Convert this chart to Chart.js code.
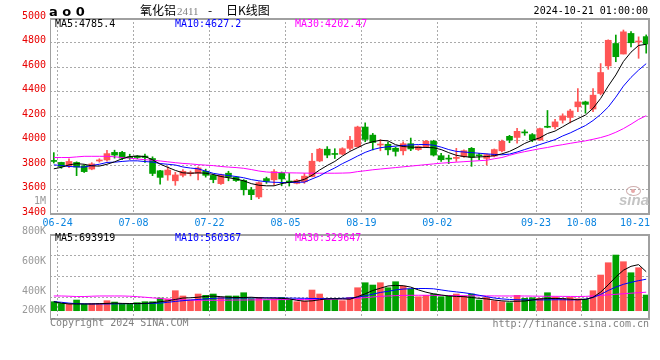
<!DOCTYPE html>
<html>
<head>
<meta charset="utf-8">
<script src="https://cdn.jsdelivr.net/npm/chart.js@4.4.1/dist/chart.umd.min.js"></script>
<style>
  html, body { margin: 0; padding: 0; background: #fff; }
  #wrap { position: relative; width: 660px; height: 360px; overflow: hidden;
          font-family: "DejaVu Sans Mono", monospace; font-size: 10px; }
  canvas { position: absolute; left: 0; }
  #cPrice { top: 0; }
  #cVol { top: 232px; }
  .txt { position: absolute; white-space: nowrap; line-height: 12px; }
  .cjk { font-family: "Noto Sans CJK SC", sans-serif; font-size: 12px; color: #000; }
  .vlab { color: #999; text-align: right; right: 614px; }
</style>
</head>
<body>
<div id="wrap">
  <canvas id="cPrice" width="660" height="232"></canvas>
  <canvas id="cVol" width="660" height="128"></canvas>

  <!-- cabeçalho -->
  <div class="txt" style="left:49px;top:5px;font:bold 13px 'DejaVu Sans';line-height:14px">a o 0</div>
  <div class="txt cjk" style="left:140px;top:4px">氧化铝</div>
  <div class="txt" style="left:177px;top:5px;font:11px 'Liberation Serif';color:#808080">2411</div>
  <div class="txt cjk" style="left:208px;top:4px">-</div>
  <div class="txt cjk" style="left:226px;top:4px">日K线图</div>
  <div class="txt" style="right:12px;top:5px;color:#000">2024-10-21 01:00:00</div>

  <!-- legendas das médias -->
  <div class="txt" id="pl0" style="left:55px;top:18px;color:#000"></div>
  <div class="txt" id="pl1" style="left:175px;top:18px;color:#0000ff"></div>
  <div class="txt" id="pl2" style="left:295px;top:18px;color:#ff00ff"></div>
  <div class="txt" id="vl0" style="left:55px;top:232px;color:#000"></div>
  <div class="txt" id="vl1" style="left:175px;top:232px;color:#0000ff"></div>
  <div class="txt" id="vl2" style="left:295px;top:232px;color:#ff00ff"></div>

  <!-- rótulos do volume -->
  <div class="txt vlab" id="va0" style="top:195px"></div>
  <div class="txt vlab" id="va1" style="top:225px"></div>
  <div class="txt vlab" id="va2" style="top:255px"></div>
  <div class="txt vlab" id="va3" style="top:285px"></div>
  <div class="txt vlab" id="va4" style="top:304px"></div>

  <!-- marca d'água -->
  <div style="position:absolute;left:626px;top:186px;width:13px;height:8px;border:1.5px solid #d0b0b0;border-radius:50%"></div>
  <div style="position:absolute;left:631px;top:189px;width:4px;height:4px;background:#e8a8a8;border-radius:50%"></div>
  <div class="txt" style="left:619px;top:193px;font:italic bold 15px 'Liberation Sans';color:#c4c4c4;line-height:14px">sina</div>

  <!-- rodapé -->
  <div class="txt" style="left:50px;top:317px;color:#808080">Copyright 2024 SINA.COM</div>
  <div class="txt" style="right:11px;top:318px;color:#808080">http://finance.sina.com.cn</div>
</div>

<script>
// ========= Dados =========
const dates = [
  "06-24","06-25","06-26","06-27","06-28",
  "07-01","07-02","07-03","07-04","07-05",
  "07-08","07-09","07-10","07-11","07-12",
  "07-15","07-16","07-17","07-18","07-19",
  "07-22","07-23","07-24","07-25","07-26",
  "07-29","07-30","07-31","08-01","08-02",
  "08-05","08-06","08-07","08-08","08-09",
  "08-12","08-13","08-14","08-15","08-16",
  "08-19","08-20","08-21","08-22","08-23",
  "08-26","08-27","08-28","08-29","08-30",
  "09-02","09-03","09-04","09-05","09-06",
  "09-09","09-10","09-11","09-12","09-13",
  "09-18","09-19","09-20",
  "09-23","09-24","09-25","09-26","09-27",
  "09-30",
  "10-08","10-09","10-10","10-11",
  "10-14","10-15","10-16","10-17","10-18",
  "10-21"
];

const open = [
  3833,3821,3793,3821,3793,3767,3833,3841,3903,3903,
  3861,3873,3873,3853,3753,3719,3671,3716,3729,3733,
  3749,3715,3648,3733,3701,3674,3598,3539,3689,3679,
  3737,3666,3650,3663,3706,3833,3929,3891,3889,3936,
  3949,4110,4044,3963,3969,3937,3916,3974,3926,3949,
  3994,3876,3853,3854,3869,3936,3879,3854,3873,3916,
  4034,4025,4067,4048,4004,4112,4112,4166,4188,4275,
  4315,4257,4384,4609,4792,4706,4874,4804,4848
];
const high = [
  3901,3823,3851,3826,3801,3819,3851,3919,3921,3911,
  3888,3877,3889,3867,3756,3786,3741,3763,3751,3786,
  3766,3723,3726,3749,3706,3681,3617,3662,3701,3763,
  3743,3731,3683,3731,3896,3936,3950,3933,3941,4034,
  4117,4144,4058,4007,3987,3946,3990,4020,3956,4002,
  4002,3896,3881,3936,3923,3943,3896,3891,3931,4004,
  4042,4100,4087,4057,4102,4245,4173,4218,4255,4424,
  4321,4424,4628,4822,4861,4902,4889,4846,4862
];
const low = [
  3816,3773,3779,3713,3739,3761,3823,3831,3856,3844,
  3846,3851,3821,3713,3644,3675,3634,3703,3711,3679,
  3701,3655,3642,3671,3666,3555,3517,3526,3650,3635,
  3630,3628,3645,3650,3703,3826,3859,3853,3883,3921,
  3946,3990,3923,3916,3883,3873,3882,3917,3919,3943,
  3873,3829,3811,3829,3861,3789,3843,3801,3866,3906,
  3982,3978,4042,3990,4000,4104,4094,4142,4144,4235,
  4223,4235,4372,4581,4643,4706,4764,4671,4713
];
const close = [
  3829,3787,3829,3783,3746,3809,3839,3893,3881,3856,
  3859,3861,3861,3731,3699,3759,3719,3749,3733,3776,
  3716,3681,3719,3701,3673,3598,3558,3656,3666,3746,
  3686,3661,3676,3709,3831,3929,3881,3886,3933,4002,
  4110,4009,3984,3969,3924,3911,3974,3931,3951,3994,
  3881,3843,3848,3858,3917,3863,3875,3885,3926,3994,
  4004,4075,4062,4004,4097,4108,4152,4201,4241,4315,
  4295,4370,4555,4818,4684,4887,4798,4809,4788
];

// médias móveis do preço
const ma5 = [
  3769,3781,3801,3811,3806,3793,3791,3806,3826,3851,
  3869,3873,3869,3843,3807,3781,3756,3736,3733,3736,
  3733,3723,3706,3696,3686,3671,3648,3635,3630,3630,
  3648,3659,3666,3683,3716,3759,3796,3829,3873,3911,
  3941,3972,3990,4002,3997,3966,3951,3946,3944,3943,
  3941,3926,3901,3879,3869,3863,3866,3869,3876,3891,
  3911,3941,3976,4002,4022,4057,4077,4112,4148,4178,
  4208,4263,4343,4444,4535,4645,4721,4776,4785.4
];
const ma10 = [
  3801,3796,3788,3785,3783,3796,3806,3821,3823,3829,
  3834,3834,3828,3824,3812,3806,3800,3784,3775,3769,
  3750,3732,3722,3714,3706,3696,3681,3671,3663,3659,
  3657,3657,3659,3660,3686,3711,3746,3776,3811,3841,
  3873,3903,3926,3941,3949,3954,3959,3964,3967,3967,
  3962,3946,3926,3911,3906,3901,3896,3891,3886,3883,
  3889,3906,3926,3946,3967,3987,4007,4037,4062,4092,
  4122,4163,4213,4273,4354,4444,4515,4575,4627.2
];
const ma30 = [
  3861,3861,3861,3866,3871,3871,3871,3871,3867,3861,
  3856,3849,3843,3839,3833,3826,3819,3813,3809,3803,
  3799,3795,3788,3783,3779,3773,3763,3751,3743,3739,
  3737,3736,3735,3734,3733,3733,3733,3733,3734,3736,
  3746,3753,3761,3767,3773,3779,3785,3791,3797,3803,
  3809,3815,3819,3823,3827,3831,3835,3839,3851,3861,
  3879,3896,3909,3921,3933,3943,3956,3966,3977,3987,
  3997,4010,4024,4042,4067,4097,4133,4172,4202.47
];

// volume (em milhares)
const volume = [
  160,130,119,190,119,130,130,178,154,119,
  119,143,160,160,225,208,356,262,190,297,
  273,297,237,262,262,320,214,237,190,208,
  237,190,160,172,368,297,208,208,178,237,
  409,498,457,498,409,516,438,385,249,273,
  297,249,262,297,262,297,190,237,178,160,
  143,273,220,231,220,320,243,220,237,214,
  208,356,635,854,991,872,676,765,279
];
const vma5 = [
  160,135,120,120,120,120,125,130,135,130,
  128,128,130,140,160,175,200,225,230,240,
  255,260,250,240,235,235,240,230,225,225,
  220,210,185,170,175,195,210,214,210,205,
  250,300,360,400,440,450,445,420,370,330,
  300,280,262,255,250,235,220,210,190,175,
  167,168,172,190,210,216,218,215,205,195,
  200,240,330,460,600,720,790,820,693.919
];
const vma10 = [
  160,150,135,125,122,120,120,120,122,124,
  125,125,127,130,135,150,165,178,190,200,
  210,220,225,225,226,226,228,228,228,228,
  226,224,222,220,218,216,215,216,220,228,
  240,265,295,325,345,370,385,392,395,395,
  390,370,350,335,320,300,275,250,225,210,
  200,195,192,192,192,193,195,195,192,195,
  205,235,290,360,420,470,505,535,560.367
];
const vma30 = [
  262,262,258,252,252,258,262,262,262,262,
  258,250,240,228,218,205,198,192,188,186,
  186,186,186,188,190,190,192,193,195,196,
  198,198,200,200,201,202,203,205,210,215,
  222,232,245,255,262,268,272,274,275,275,
  274,272,270,268,266,265,265,264,263,262,
  262,262,262,260,258,257,256,255,254,253,
  255,262,272,282,292,302,312,320,329.647
];

// rótulos
const xTickDates = ["06-24","07-08","07-22","08-05","08-19","09-02","09-23","10-08","10-21"];
const priceMaLegend = ["MA5:4785.4", "MA10:4627.2", "MA30:4202.47"];
const volMaLegend = ["MA5:693919", "MA10:560367", "MA30:329647"];
const volAxisLabels = ["1M", "800K", "600K", "400K", "200K"];

// ========= Estilo =========
const MONO = '"DejaVu Sans Mono", "Liberation Mono", monospace';
const RED = "#ff5555";
const GREEN = "#00a000";
const GRID = "#aaaaaa";
const FRAME = "#a0a0a0";
const CLEAR = "rgba(0,0,0,0)";

// cor de cada candle (alta vermelho / baixa verde)
const colors = dates.map((_, i) => (close[i] >= open[i] ? RED : GREEN));

// textos html
priceMaLegend.forEach((t, i) => (document.getElementById("pl" + i).textContent = t));
volMaLegend.forEach((t, i) => (document.getElementById("vl" + i).textContent = t));
volAxisLabels.forEach((t, i) => (document.getElementById("va" + i).textContent = t));

// moldura da área do gráfico
const framePlugin = {
  id: "frame",
  afterDatasetsDraw(chart) {
    const { ctx, chartArea: a } = chart;
    ctx.save();
    ctx.fillStyle = FRAME;
    ctx.fillRect(a.left, a.top, a.right - a.left, 2);
    ctx.fillRect(a.left, a.bottom - 1, a.right - a.left, 2);
    ctx.fillRect(a.left, a.top, 1, a.bottom - a.top + 1);
    ctx.fillRect(a.right - 2, a.top, 2, a.bottom - a.top + 1);
    ctx.restore();
  },
};

// posições das linhas verticais (borda direita do dia rotulado)
const xGridValues = xTickDates.map((d) => dates.indexOf(d) + 1);

function xdScale(showLabels, h) {
  return {
    type: "linear",
    position: "bottom",
    offset: false,
    min: 0,
    max: dates.length,
    afterBuildTicks: (s) => {
      s.ticks = [0, ...xGridValues].map((v) => ({ value: v }));
    },
    afterFit: (s) => { s.height = h; },
    ticks: {
      display: showLabels,
      autoSkip: false,
      maxRotation: 0,
      align: "inner",
      padding: 3,
      color: "#0a84e0",
      font: { family: MONO, size: 10 },
      callback: (v) => (v === 0 ? "" : dates[v - 1]),
    },
    grid: {
      offset: false,
      drawTicks: false,
      color: (c) => (c.tick && (c.tick.value === 0 || c.tick.value === dates.length) ? CLEAR : GRID),
    },
    border: { display: false, dash: [2, 2] },
  };
}

function lineDs(data, color, order) {
  return {
    type: "line", data, borderColor: color, borderWidth: 1,
    pointRadius: 0, xAxisID: "x", yAxisID: "y", order,
  };
}

const baseOpts = {
  responsive: false,
  animation: false,
  events: [],
  plugins: { legend: { display: false }, tooltip: { enabled: false } },
};

// ========= Gráfico de preço =========
new Chart(document.getElementById("cPrice"), {
  type: "bar",
  data: {
    labels: dates,
    datasets: [
      lineDs(ma5, "#000000", 0),
      lineDs(ma10, "#0000ff", 1),
      lineDs(ma30, "#ff00ff", 2),
      {
        data: dates.map((_, i) => [open[i], close[i]]),
        backgroundColor: colors, barThickness: 6, minBarLength: 1,
        grouped: false, xAxisID: "x", yAxisID: "y", order: 3,
      },
      {
        data: dates.map((_, i) => [low[i], high[i]]),
        backgroundColor: colors, barThickness: 1,
        grouped: false, xAxisID: "x", yAxisID: "y", order: 4,
      },
    ],
  },
  options: {
    ...baseOpts,
    layout: { padding: { top: 18, right: 10, left: 0, bottom: 0 } },
    scales: {
      x: { type: "category", display: false, offset: true },
      xd: xdScale(true, 18),
      y: {
        position: "left",
        min: 3400,
        max: 5000,
        afterFit: (s) => { s.width = 50; },
        ticks: {
          stepSize: 200, color: "#e80000", padding: 4, labelOffset: -2,
          font: { family: MONO, size: 10 },
          callback: (v) => String(v),
        },
        grid: {
          drawTicks: false,
          color: (c) => (c.tick && (c.tick.value <= 3400 || c.tick.value >= 5000) ? CLEAR : GRID),
        },
        border: { display: false, dash: [2, 2] },
      },
    },
  },
  plugins: [framePlugin],
});

// ========= Gráfico de volume =========
new Chart(document.getElementById("cVol"), {
  type: "bar",
  data: {
    labels: dates,
    datasets: [
      lineDs(vma5, "#000000", 0),
      lineDs(vma10, "#0000ff", 1),
      lineDs(vma30, "#ff00ff", 2),
      {
        data: volume, backgroundColor: colors, barThickness: 6,
        grouped: false, xAxisID: "x", yAxisID: "y", order: 3,
      },
    ],
  },
  options: {
    ...baseOpts,
    layout: { padding: { top: 2, right: 10, left: 0, bottom: 41 } },
    scales: {
      x: { type: "category", display: false, offset: true },
      xd: xdScale(false, 0),
      y: {
        position: "left",
        min: -147.7,
        max: 1365.3,
        afterFit: (s) => { s.width = 50; },
        afterBuildTicks: (s) => {
          const step = (s.max - s.min) / 4;
          s.ticks = [0, 1, 2, 3, 4].map((k) => ({ value: s.min + k * step }));
        },
        ticks: { display: false },
        grid: {
          drawTicks: false,
          color: (c) => (c.index === 0 || c.index === 4 ? CLEAR : GRID),
        },
        border: { display: false, dash: [2, 2] },
      },
    },
  },
  plugins: [framePlugin],
});
</script>
</body>
</html>
